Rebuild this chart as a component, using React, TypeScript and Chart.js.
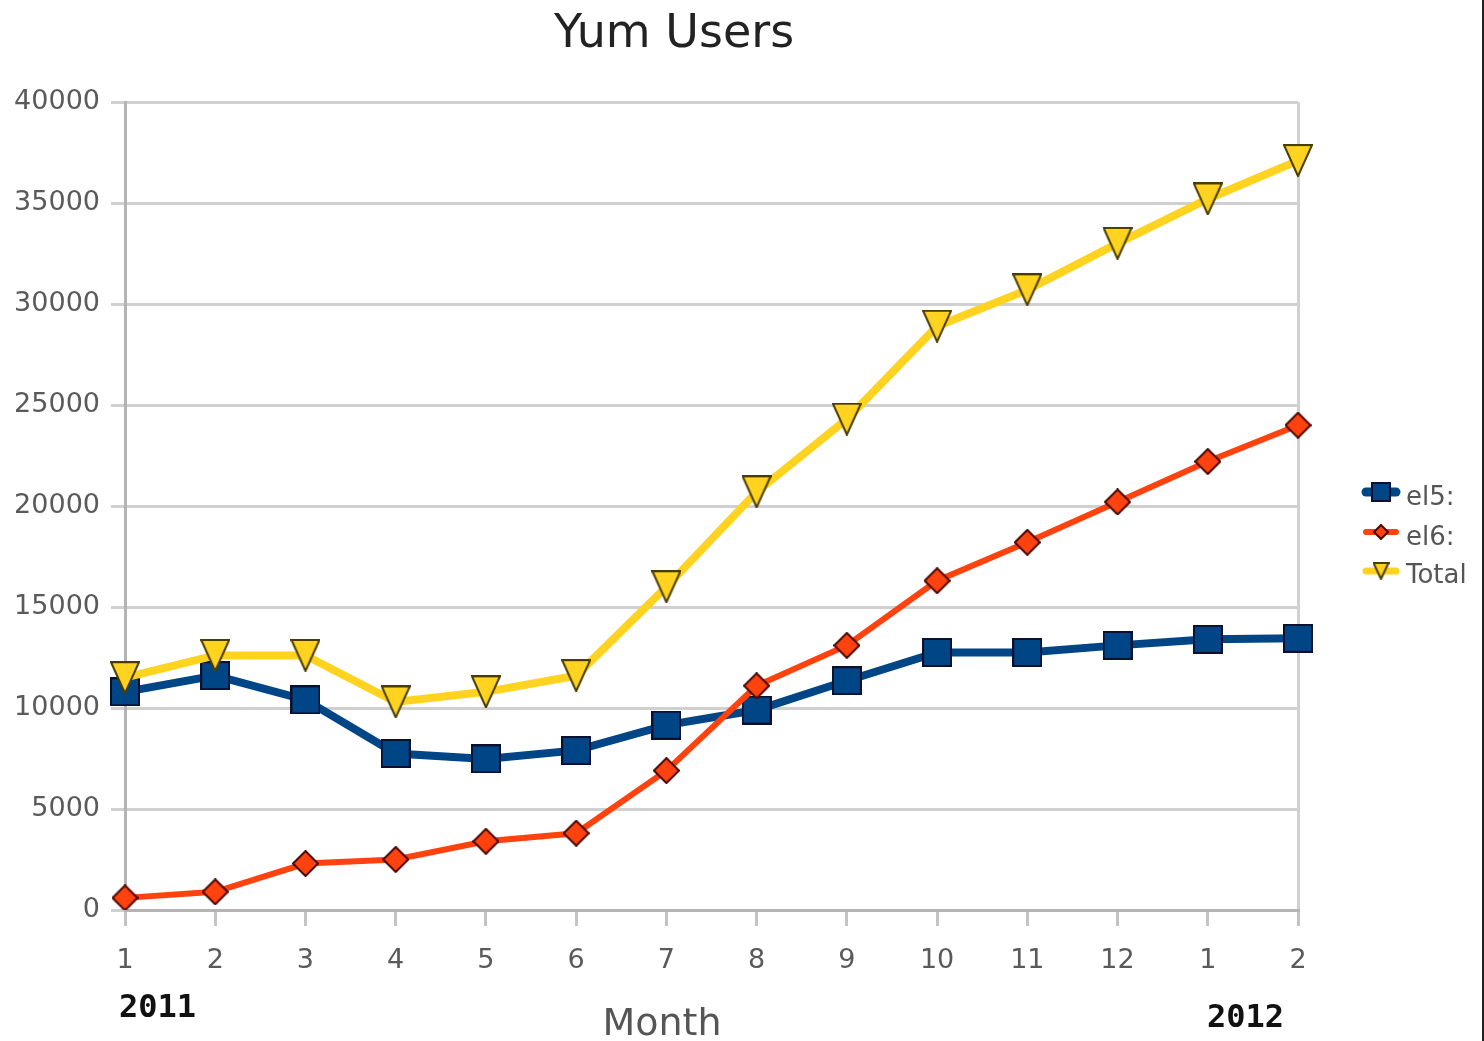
import { useEffect, useRef } from 'react';
import { Chart, registerables } from 'chart.js';

Chart.register(...registerables);

const months = ['1', '2', '3', '4', '5', '6', '7', '8', '9', '10', '11', '12', '1', '2'];
const el5 = [10800, 11600, 10400, 7750, 7480, 7900, 9150, 9900, 11350, 12750, 12750, 13100, 13400, 13450];
const el6 = [600, 900, 2300, 2500, 3400, 3800, 6900, 11100, 13100, 16300, 18200, 20200, 22200, 24000];
const total = [11500, 12600, 12600, 10300, 10800, 11600, 16000, 20700, 24300, 28900, 30700, 33000, 35200, 37100];
const seriesNames = ['el5:', 'el6:', 'Total'];
const yearLabels = ['2011', '2012'];
const chartTitle = 'Yum Users';
const axisTitle = 'Month';

const BLUE = '#004586';
const RED = '#ff420e';
const YELLOW = '#ffd320';

function makeMarker(kind: string, w: number, h: number): HTMLCanvasElement {
  const c = document.createElement('canvas');
  c.width = w;
  c.height = h;
  const g = c.getContext('2d')!;
  g.lineWidth = 2;
  g.beginPath();
  if (kind === 'square') {
    g.rect(1, 1, w - 2, h - 2);
    g.fillStyle = BLUE;
    g.strokeStyle = '#0b1030';
  } else if (kind === 'diamond') {
    g.moveTo(w / 2, 1);
    g.lineTo(w - 1, h / 2);
    g.lineTo(w / 2, h - 1);
    g.lineTo(1, h / 2);
    g.closePath();
    g.fillStyle = RED;
    g.strokeStyle = '#4a0800';
  } else {
    g.moveTo(1, 1);
    g.lineTo(w - 1, 1);
    g.lineTo(w / 2, h - 1);
    g.closePath();
    g.fillStyle = YELLOW;
    g.strokeStyle = '#4a3d00';
  }
  g.fill();
  g.stroke();
  return c;
}

export default function App() {
  const ref = useRef<HTMLCanvasElement | null>(null);

  useEffect(() => {
    const canvas = ref.current;
    if (!canvas) return;
    const sq = makeMarker('square', 30, 29);
    const dm = makeMarker('diamond', 27, 27);
    const tr = makeMarker('triangle', 30, 33);
    const sqS = makeMarker('square', 20, 20);
    const dmS = makeMarker('diamond', 16, 16);
    const trS = makeMarker('triangle', 17, 18);

    const overlay = {
      id: 'overlay',
      afterDraw(chart: any) {
        const ctx = chart.ctx as CanvasRenderingContext2D;
        ctx.save();
        // title
        ctx.fillStyle = '#222';
        ctx.font = '46px "DejaVu Sans"';
        ctx.textAlign = 'center';
        ctx.textBaseline = 'alphabetic';
        ctx.fillText(chartTitle, 674, 47);
        // axis title
        ctx.fillStyle = '#555';
        ctx.font = '38px "DejaVu Sans"';
        ctx.fillText(axisTitle, 662, 1035);
        // year labels
        ctx.fillStyle = '#111';
        ctx.font = 'bold 32px "DejaVu Sans Mono"';
        ctx.textAlign = 'left';
        ctx.fillText(yearLabels[0], 119, 1017);
        ctx.textAlign = 'right';
        ctx.fillText(yearLabels[1], 1284, 1027);
        // legend
        const items = [
          { y: 492, color: BLUE, lw: 9, img: sqS, base: 505 },
          { y: 532, color: RED, lw: 6, img: dmS, base: 545 },
          { y: 571, color: YELLOW, lw: 7, img: trS, base: 583 },
        ];
        items.forEach((it, i) => {
          ctx.strokeStyle = it.color;
          ctx.lineWidth = it.lw;
          ctx.lineCap = 'round';
          ctx.beginPath();
          ctx.moveTo(1366, it.y);
          ctx.lineTo(1396, it.y);
          ctx.stroke();
          ctx.drawImage(it.img, 1381 - it.img.width / 2, it.y - it.img.height / 2);
          ctx.fillStyle = '#555';
          ctx.font = '26px "DejaVu Sans"';
          ctx.textAlign = 'left';
          ctx.fillText(seriesNames[i], 1406, it.base);
        });
        // right edge frame line
        ctx.fillStyle = '#222';
        ctx.fillRect(1482, 0, 2, 1041);
        ctx.restore();
      },
    };

    const chart = new Chart(canvas, {
      type: 'line',
      data: {
        labels: months,
        datasets: [
          {
            label: seriesNames[0],
            data: el5,
            borderColor: BLUE,
            backgroundColor: BLUE,
            borderWidth: 8,
            pointStyle: sq,
            pointRadius: 15,
            order: 3,
          },
          {
            label: seriesNames[1],
            data: el6,
            borderColor: RED,
            backgroundColor: RED,
            borderWidth: 6,
            pointStyle: dm,
            pointRadius: 14,
            order: 2,
          },
          {
            label: seriesNames[2],
            data: total,
            borderColor: YELLOW,
            backgroundColor: YELLOW,
            borderWidth: 8,
            pointStyle: tr,
            pointRadius: 16,
            order: 1,
          },
        ],
      },
      options: {
        responsive: false,
        animation: false,
        layout: { padding: { top: 102, right: 186, left: 0, bottom: 0 } },
        plugins: {
          legend: { display: false },
          title: { display: false },
          tooltip: { enabled: false },
        },
        scales: {
          x: {
            type: 'category',
            offset: false,
            afterFit: (s: any) => {
              s.height = 131;
            },
            ticks: {
              autoSkip: false,
              maxRotation: 0,
              color: '#5a5a5a',
              font: { family: '"DejaVu Sans"', size: 27 },
              padding: 19,
            },
            grid: {
              drawOnChartArea: true,
              color: (c: any) => (c.index === months.length - 1 ? '#d0d0d0' : 'rgba(0,0,0,0)'),
              tickColor: '#c4c4c4',
              lineWidth: 3,
              tickLength: 16,
            },
            border: { display: true, color: '#b4b4b4', width: 3 },
            title: { display: false },
          },
          y: {
            min: 0,
            max: 40000,
            afterFit: (s: any) => {
              s.width = 125;
            },
            ticks: {
              stepSize: 5000,
              color: '#5a5a5a',
              font: { family: '"DejaVu Sans"', size: 27 },
              padding: 11,
              callback: (v: any) => String(v),
            },
            grid: {
              color: '#d0d0d0',
              lineWidth: 3,
              tickLength: 14,
            },
            border: { display: true, color: '#b4b4b4', width: 3 },
          },
        },
      },
      plugins: [overlay],
    });
    return () => chart.destroy();
  }, []);

  return (
    <div style={{ position: 'fixed', left: 0, top: 0, width: 1484, height: 1041, background: '#fff' }}>
      <canvas ref={ref} width={1484} height={1041} style={{ display: 'block' }} />
    </div>
  );
}
